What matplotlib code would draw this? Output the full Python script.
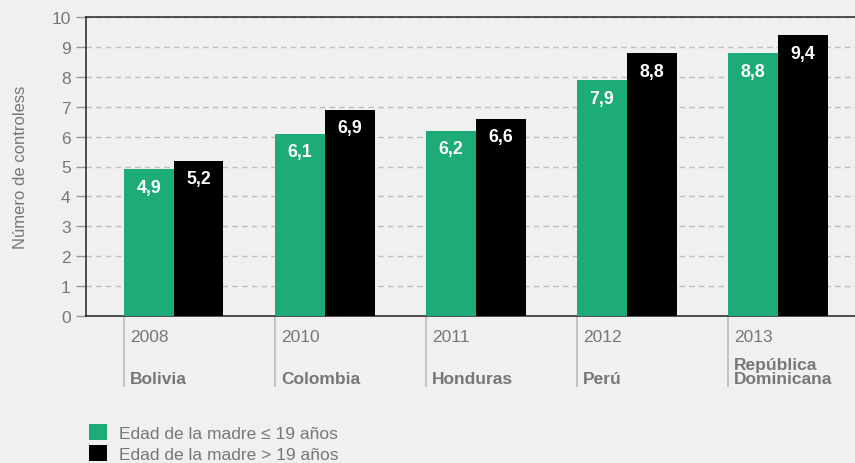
import matplotlib.pyplot as plt
import matplotlib.transforms as mtransforms
from matplotlib.patches import Patch
import numpy as np

# data
years = ["2008", "2010", "2011", "2012", "2013"]
countries = ["Bolivia", "Colombia", "Honduras", "Perú", "República\nDominicana"]
young = [4.9, 6.1, 6.2, 7.9, 8.8]     # edad de la madre <= 19
older = [5.2, 6.9, 6.6, 8.8, 9.4]     # edad de la madre > 19
series_names = ["Edad de la madre ≤ 19 años", "Edad de la madre > 19 años"]

green = "#1dab77"
grey_txt = "#77777a"
bg = "#f0f0f0"

plt.rcParams['font.family'] = ['Liberation Sans', 'DejaVu Sans']

fig = plt.figure(figsize=(8.55, 4.64), dpi=100, facecolor=bg)
ax = fig.add_axes([86 / 855, 1 - 317 / 464, 1 - 86 / 855, 299 / 464])
ax.set_facecolor(bg)

x = np.arange(len(years))
w = 0.33
b1 = ax.bar(x, young, width=w, align='edge', color=green, zorder=3)
b2 = ax.bar(x + w, older, width=w, align='edge', color='black', zorder=3)

# value labels inside the top of each bar
for bars in (b1, b2):
    for r in bars:
        v = r.get_height()
        ax.annotate(f"{v:.1f}".replace(".", ","),
                    (r.get_x() + r.get_width() / 2, v),
                    xytext=(0, -7), textcoords='offset points',
                    ha='center', va='top', color='white',
                    fontsize=12.8, fontweight='bold', zorder=4)

ax.set_ylim(0, 10)
ax.set_xlim(-0.25, 4.84)
ax.set_yticks(range(0, 11))
ax.yaxis.grid(True, color='#bdbdbd', linestyle=(0, (4, 3)), linewidth=1, zorder=0)
ax.set_xticks([])
ax.tick_params(axis='y', colors='#999999', labelcolor=grey_txt, labelsize=12.5,
               length=7, width=1, pad=4)

for s in ['left', 'top', 'bottom']:
    ax.spines[s].set_color('#222222')
    ax.spines[s].set_linewidth(1.1)
ax.spines['right'].set_visible(False)

ax.set_ylabel("Número de controless", color=grey_txt, fontsize=12, labelpad=17)

# category separators and labels below the axis
trans = mtransforms.blended_transform_factory(ax.transData, ax.transAxes)
ax.vlines(x, -0.237, 0, transform=trans, color='#bbbbbb', linewidth=1.2, clip_on=False)
for i in range(len(years)):
    ax.text(x[i] + 0.04, -0.07, years[i], transform=trans, ha='left', va='center',
            color=grey_txt, fontsize=12.5)
    ax.text(x[i] + 0.04, -0.235, countries[i], transform=trans, ha='left', va='bottom',
            color=grey_txt, fontsize=12.5, fontweight='bold', linespacing=0.95)

handles = [Patch(facecolor=green), Patch(facecolor='black')]
fig.legend(handles, series_names, loc='lower left', bbox_to_anchor=(80 / 855, -8 / 464),
           frameon=False, fontsize=12.5, labelcolor=grey_txt,
           handlelength=1.05, handleheight=1.05, handletextpad=0.7, labelspacing=0.26,
           borderaxespad=0, borderpad=0.5)

fig.savefig("out.png", dpi=100, facecolor=bg)
